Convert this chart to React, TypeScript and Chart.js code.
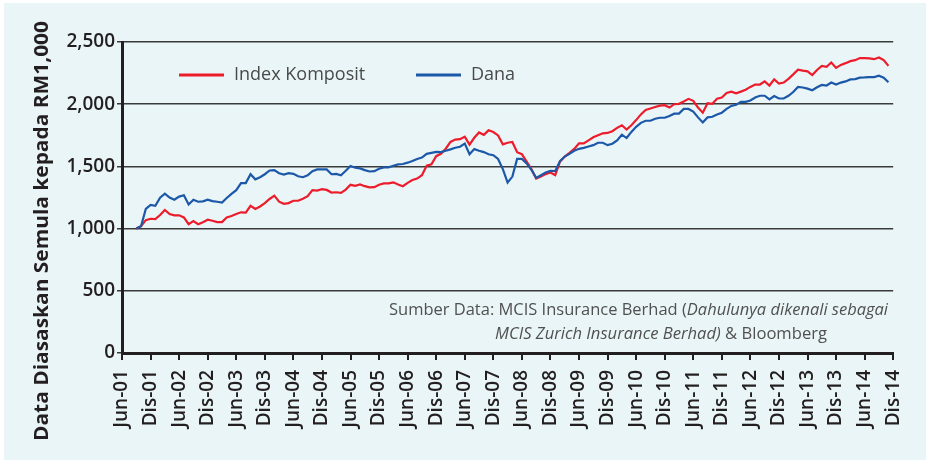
import React, { useEffect, useRef } from 'react';
import { Chart, registerables } from 'chart.js';

Chart.register(...registerables);

// Months counted from Jun-01 (x = 0 is Jun-01, ticks every 6 months)
const START_MONTH = 3;
const TICK_LABELS = [
  'Jun-01', 'Dis-01', 'Jun-02', 'Dis-02', 'Jun-03', 'Dis-03', 'Jun-04', 'Dis-04',
  'Jun-05', 'Dis-05', 'Jun-06', 'Dis-06', 'Jun-07', 'Dis-07', 'Jun-08', 'Dis-08',
  'Jun-09', 'Dis-09', 'Jun-10', 'Dis-10', 'Jun-11', 'Dis-11', 'Jun-12', 'Dis-12',
  'Jun-13', 'Dis-13', 'Jun-14', 'Dis-14',
];
const Y_MAX = 2500;
const Y_STEP = 500;

const SERIES_NAMES = ['Index Komposit', 'Dana'];

const INDEX_KOMPOSIT = [
  1000, 1019, 1068, 1079, 1076, 1109, 1150, 1117, 1107, 1107,
  1090, 1035, 1060, 1035, 1052, 1071, 1063, 1052, 1052, 1090,
  1101, 1117, 1131, 1128, 1183, 1158, 1178, 1205, 1238, 1265,
  1216, 1199, 1205, 1224, 1224, 1240, 1260, 1309, 1306, 1317,
  1311, 1290, 1292, 1287, 1314, 1352, 1344, 1355, 1341, 1331,
  1333, 1352, 1363, 1363, 1372, 1355, 1341, 1368, 1391, 1402,
  1429, 1505, 1516, 1582, 1601, 1642, 1697, 1716, 1719, 1738,
  1675, 1730, 1773, 1754, 1790, 1776, 1749, 1677, 1690, 1696,
  1614, 1598, 1538, 1478, 1402, 1418, 1438, 1451, 1429, 1538,
  1579, 1609, 1641, 1685, 1685, 1709, 1734, 1750, 1766, 1769,
  1783, 1810, 1831, 1796, 1831, 1872, 1918, 1954, 1965, 1978,
  1989, 1992, 1973, 2000, 2003, 2022, 2043, 2027, 1973, 1932,
  2008, 2003, 2044, 2054, 2090, 2101, 2087, 2101, 2117, 2139,
  2158, 2158, 2183, 2150, 2199, 2166, 2174, 2204, 2240, 2278,
  2270, 2264, 2234, 2275, 2308, 2300, 2335, 2292, 2316, 2330,
  2346, 2354, 2371, 2371, 2368, 2362, 2376, 2354, 2308,
];

const DANA = [
  1000, 1019, 1158, 1191, 1183, 1249, 1281, 1249, 1232, 1257,
  1268, 1194, 1232, 1216, 1219, 1232, 1221, 1216, 1210, 1246,
  1279, 1309, 1366, 1366, 1437, 1396, 1413, 1437, 1467, 1470,
  1445, 1434, 1445, 1440, 1421, 1413, 1429, 1462, 1476, 1476,
  1476, 1437, 1440, 1429, 1465, 1503, 1489, 1484, 1470, 1459,
  1462, 1481, 1492, 1492, 1505, 1516, 1519, 1530, 1544, 1560,
  1571, 1601, 1609, 1617, 1615, 1626, 1637, 1650, 1658, 1683,
  1598, 1639, 1626, 1615, 1598, 1590, 1560, 1478, 1370, 1418,
  1560, 1560, 1524, 1473, 1408, 1429, 1451, 1465, 1462, 1543,
  1579, 1601, 1625, 1641, 1649, 1660, 1671, 1690, 1690, 1671,
  1682, 1709, 1755, 1728, 1777, 1818, 1850, 1867, 1867, 1883,
  1891, 1891, 1905, 1924, 1924, 1962, 1962, 1940, 1894, 1853,
  1894, 1899, 1918, 1932, 1962, 1986, 1995, 2019, 2019, 2030,
  2054, 2068, 2068, 2038, 2065, 2046, 2046, 2068, 2098, 2139,
  2134, 2125, 2112, 2136, 2155, 2150, 2174, 2158, 2174, 2183,
  2199, 2202, 2213, 2215, 2218, 2218, 2229, 2213, 2177,
];

const Y_TITLE = 'Data Diasaskan Semula kepada RM1,000';
const SOURCE_LINE_1 = [
  { text: 'Sumber Data: MCIS Insurance Berhad (', italic: false },
  { text: 'Dahulunya dikenali sebagai', italic: true },
];
const SOURCE_LINE_2 = [
  { text: 'MCIS Zurich Insurance Berhad)', italic: true },
  { text: ' & Bloomberg', italic: false },
];

const RED = '#EC1C2A';
const BLUE = '#1C58A8';
const BG = '#EAF5F8';
const INK = '#231F20';
const FONT = '"Open Sans", "Noto Sans", sans-serif';

function drawSegments(ctx: CanvasRenderingContext2D, segs: { text: string; italic: boolean }[], x: number, y: number, targetW: number, size: number) {
  let total = 0;
  const widths: number[] = [];
  for (const s of segs) {
    ctx.font = `${s.italic ? 'italic ' : ''}400 ${size}px ${FONT}`;
    const w = ctx.measureText(s.text).width;
    widths.push(w);
    total += w;
  }
  const k = targetW / total;
  ctx.save();
  ctx.translate(x, y);
  ctx.scale(k, 1);
  let cx = 0;
  segs.forEach((s, i) => {
    ctx.font = `${s.italic ? 'italic ' : ''}400 ${size}px ${FONT}`;
    ctx.fillText(s.text, cx, 0);
    cx += widths[i];
  });
  ctx.restore();
}

const decorPlugin = {
  id: 'decor',
  beforeDraw(chart: any) {
    const ctx = chart.ctx as CanvasRenderingContext2D;
    ctx.save();
    ctx.fillStyle = '#ffffff';
    ctx.fillRect(0, 0, chart.width, chart.height);
    ctx.fillStyle = BG;
    ctx.fillRect(4, 3, chart.width - 4, chart.height - 3);
    ctx.restore();
  },
  afterDraw(chart: any) {
    const ctx = chart.ctx as CanvasRenderingContext2D;
    ctx.save();
    // Y axis title
    ctx.translate(42, 231);
    ctx.rotate(-Math.PI / 2);
    ctx.fillStyle = INK;
    ctx.font = `700 20px ${FONT}`;
    ctx.textAlign = 'center';
    ctx.textBaseline = 'middle';
    const tw = ctx.measureText(Y_TITLE).width;
    const k = 420 / tw;
    ctx.scale(k, 1);
    ctx.fillText(Y_TITLE, 0, 0);
    ctx.restore();

    // Legend
    const items = chart.data.datasets.map((d: any) => ({ label: d.label, color: d.borderColor }));
    const legendPos = [
      { lx: 179, tx: 234 },
      { lx: 416, tx: 471 },
    ];
    ctx.save();
    items.forEach((it: any, i: number) => {
      const p = legendPos[i];
      ctx.strokeStyle = it.color;
      ctx.lineWidth = 3;
      ctx.beginPath();
      ctx.moveTo(p.lx, 75);
      ctx.lineTo(p.lx + 45, 75);
      ctx.stroke();
      ctx.fillStyle = '#4a4a4a';
      ctx.font = `400 18px ${FONT}`;
      ctx.textBaseline = 'middle';
      ctx.fillText(it.label, p.tx, 75);
    });
    ctx.restore();

    // Source note
    ctx.save();
    ctx.fillStyle = '#505050';
    ctx.textBaseline = 'alphabetic';
    drawSegments(ctx, SOURCE_LINE_1, 389, 315, 499, 17);
    drawSegments(ctx, SOURCE_LINE_2, 495, 339, 332, 17);
    ctx.restore();
  },
};

export default function App() {
  const ref = useRef<HTMLCanvasElement | null>(null);

  useEffect(() => {
    document.body.style.margin = '0';
    const canvas = ref.current;
    if (!canvas) return;
    const chart = new Chart(canvas, {
      type: 'line',
      data: {
        datasets: [
          {
            label: SERIES_NAMES[0],
            data: INDEX_KOMPOSIT.map((v, i) => ({ x: START_MONTH + i, y: v })),
            borderColor: RED,
            borderWidth: 2.2,
            pointRadius: 0,
            tension: 0,
            order: 1,
          },
          {
            label: SERIES_NAMES[1],
            data: DANA.map((v, i) => ({ x: START_MONTH + i, y: v })),
            borderColor: BLUE,
            borderWidth: 2.2,
            pointRadius: 0,
            tension: 0,
            order: 0,
          },
        ],
      },
      options: {
        responsive: false,
        animation: false,
        devicePixelRatio: 1,
        layout: { padding: { top: 42, right: 29, bottom: 0, left: 0 } },
        plugins: {
          legend: { display: false },
          tooltip: { enabled: false },
          title: { display: false },
        },
        scales: {
          x: {
            type: 'linear',
            min: 0,
            max: (TICK_LABELS.length - 1) * 6,
            afterFit: (scale: any) => { scale.height = 107; },
            afterBuildTicks: (scale: any) => {
              scale.ticks = TICK_LABELS.map((_, i) => ({ value: i * 6 }));
            },
            ticks: {
              autoSkip: false,
              minRotation: 90,
              maxRotation: 90,
              padding: 10,
              color: INK,
              font: { family: FONT, size: 19, weight: '600' },
              callback: (v: any) => TICK_LABELS[Math.round(Number(v) / 6)] ?? '',
            },
            grid: {
              drawOnChartArea: false,
              drawTicks: true,
              tickLength: 7,
              color: INK,
              lineWidth: 2,
            },
            border: { display: true, color: INK, width: 3 },
          },
          y: {
            min: 0,
            max: Y_MAX,
            afterFit: (scale: any) => { scale.width = 122; },
            ticks: {
              stepSize: Y_STEP,
              padding: 2,
              color: INK,
              font: { family: FONT, size: 19, weight: '600' },
              callback: (v: any) => Number(v).toLocaleString('en-US'),
            },
            grid: {
              color: '#3a3a3a',
              lineWidth: 1.5,
              drawTicks: true,
              tickLength: 5,
            },
            border: { display: true, color: INK, width: 3 },
          },
        },
      },
      plugins: [decorPlugin],
    } as any);
    return () => chart.destroy();
  }, []);

  return (
    <div style={{ width: 926, height: 460, overflow: 'hidden' }}>
      <canvas ref={ref} width={926} height={460} style={{ display: 'block' }} />
    </div>
  );
}
